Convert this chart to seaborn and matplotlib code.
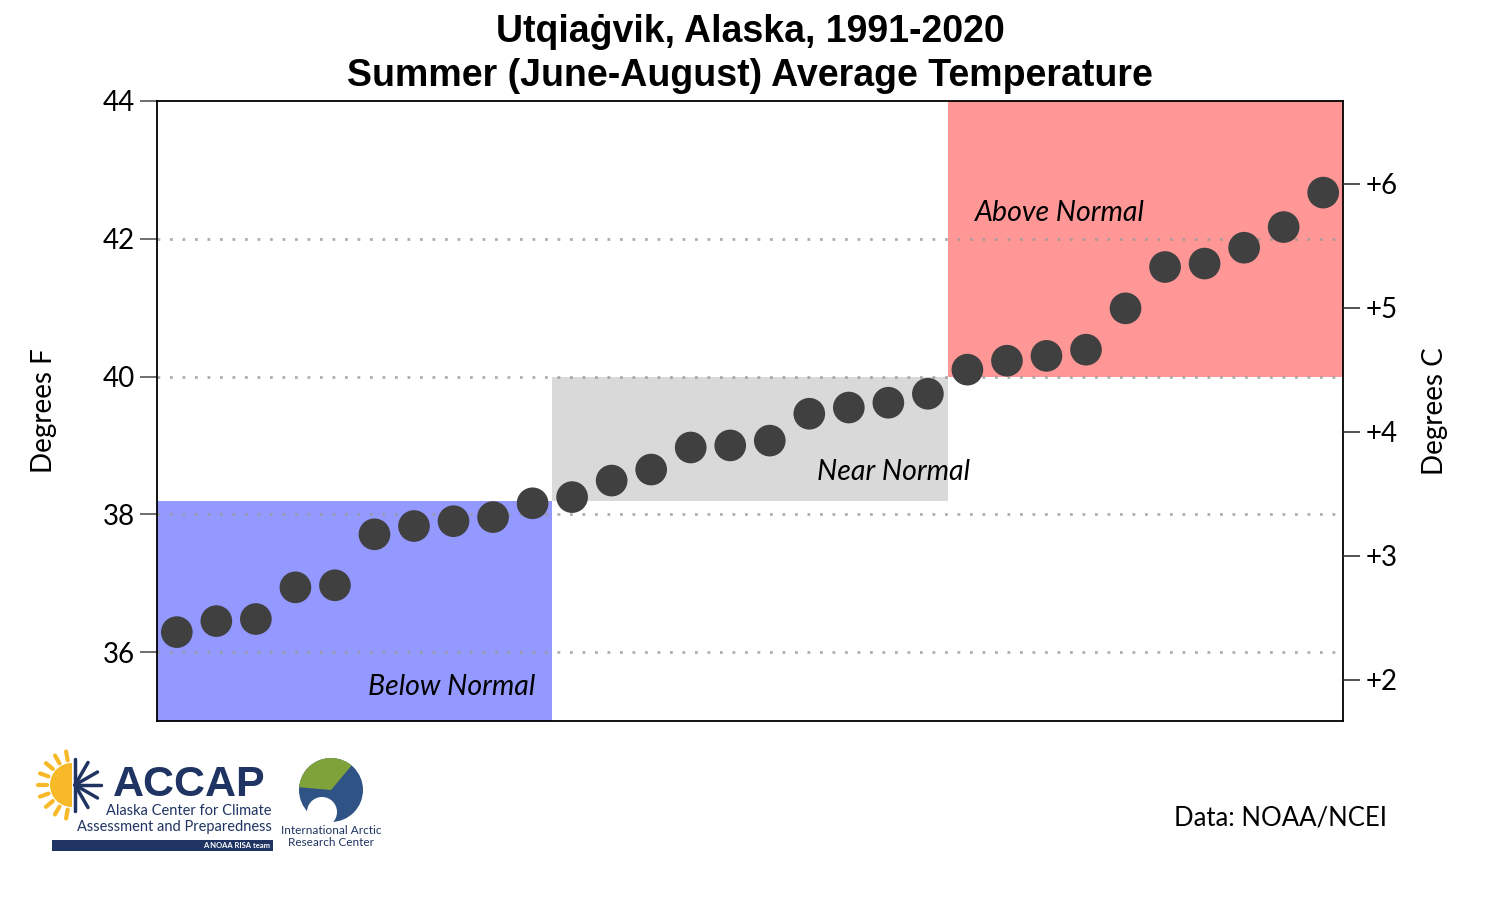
import numpy as np
import pandas as pd
import seaborn as sns
import matplotlib.pyplot as plt
from matplotlib.patches import Rectangle, Circle, Wedge

# sorted summer average temperatures (deg F), 1991-2020
rank = list(range(1, 31))
temp_f = [36.29, 36.45, 36.48, 36.94, 36.97, 37.71, 37.83, 37.90, 37.96, 38.16,
          38.25, 38.49, 38.65, 38.97, 39.00, 39.07, 39.46, 39.55, 39.62, 39.75,
          40.10, 40.23, 40.30, 40.39, 40.99, 41.59, 41.64, 41.87, 42.17, 42.67]

# tercile boxes: (first rank, last rank, low F, high F, colour)
terciles = [
    (1, 10, 35.0, 38.2, "#9499ff"),
    (11, 20, 38.2, 40.0, "#d9d9d9"),
    (21, 30, 40.0, 44.0, "#ff9797"),
]

f_ticks = [36, 38, 40, 42, 44]
c_ticks = [2, 3, 4, 5, 6]

df = pd.DataFrame({"rank": rank, "temp": temp_f})

sns.set_style("white")
plt.rcParams["font.family"] = ["Lato", "DejaVu Sans"]
plt.rcParams["text.color"] = "black"
plt.rcParams["axes.labelcolor"] = "black"
plt.rcParams["ytick.color"] = "black"

fig = plt.figure(figsize=(15, 9), dpi=100)
ax = fig.add_axes([0.1047, 0.1989, 0.7906, 0.6889])

for lo, hi, y0, y1, col in terciles:
    ax.add_patch(Rectangle((lo - 0.5, y0), hi - lo + 1, y1 - y0,
                           facecolor=col, edgecolor="none", zorder=1))

for t in [36, 38, 40, 42]:
    ax.axhline(t, color="#9a9a9a", lw=2, ls=(0, (1, 3.5)), alpha=0.8, zorder=2)

sns.scatterplot(data=df, x="rank", y="temp", ax=ax, s=520, color="#404040",
                edgecolor="none", zorder=3, legend=False)

ax.set_xlim(0.5, 30.5)
ax.set_ylim(35, 44)
ax.set_xticks([])
ax.set_yticks(f_ticks)
ax.set_yticklabels([str(t) for t in f_ticks], fontsize=20)
ax.tick_params(axis="y", length=12, width=1.2, color="#555555", pad=4)
ax.set_xlabel("")
ax.set_ylabel("Degrees F", fontsize=20, labelpad=33)
for sp in ax.spines.values():
    sp.set_visible(True)
    sp.set_color("black")
    sp.set_linewidth(1.3)

ax.text(21.2, 42.38, "Above Normal", fontsize=20.5, style="italic",
        ha="left", va="center", zorder=4)
ax.text(21.07, 38.61, "Near Normal", fontsize=20.5, style="italic",
        ha="right", va="center", zorder=4)
ax.text(10.06, 35.49, "Below Normal", fontsize=20.5, style="italic",
        ha="right", va="center", zorder=4)

# right axis in degrees C
ax2 = ax.twinx()
ax2.set_ylim((35 - 32) * 5 / 9, (44 - 32) * 5 / 9)
ax2.set_yticks(c_ticks)
ax2.set_yticklabels([f"+{c}" for c in c_ticks], fontsize=20)
ax2.tick_params(axis="y", length=12, width=1.2, color="#333333", pad=4)
ax2.set_ylabel("Degrees C", fontsize=20, labelpad=18)
for sp in ax2.spines.values():
    sp.set_visible(False)

fig.text(0.5, 0.964, "Utqiaġvik, Alaska, 1991-2020",
         family=["Liberation Sans", "DejaVu Sans"], fontsize=27,
         fontweight="bold", ha="center", va="center")
fig.text(0.5, 0.915, "Summer (June-August) Average Temperature",
         family=["Liberation Sans", "DejaVu Sans"], fontsize=27,
         fontweight="bold", ha="center", va="center")

fig.text(0.925, 0.091, "Data: NOAA/NCEI", fontsize=18.5, ha="right", va="center")

# rough stand-in for the logos (pixel-like coords, y measured down from 720)
lg = fig.add_axes([0, 0, 0.27, 0.2])
lg.set_xlim(0, 405)
lg.set_ylim(180, 0)
lg.axis("off")
navy = "#1f3462"
lg.add_patch(Wedge((72, 65), 22, 90, 270, facecolor="#f7b928", edgecolor="none"))
for a in np.linspace(100, 260, 9):
    r = np.deg2rad(a)
    lg.plot([72 + 25 * np.cos(r), 72 + 34 * np.cos(r)],
            [65 - 25 * np.sin(r), 65 - 34 * np.sin(r)], color="#f7b928", lw=3)
for a in range(-90, 91, 30):
    r = np.deg2rad(a)
    lg.plot([75, 75 + 26 * np.cos(r)], [65, 65 - 26 * np.sin(r)], color=navy, lw=2.5)
lg.text(113, 76, "ACCAP", fontsize=31, fontweight="black", color=navy,
        family=["Liberation Sans", "DejaVu Sans"], va="baseline", ha="left")
lg.text(272, 91, "Alaska Center for Climate", fontsize=10.5, color=navy,
        ha="right", va="center")
lg.text(272, 107, "Assessment and Preparedness", fontsize=10.5, color=navy,
        ha="right", va="center")
lg.add_patch(Rectangle((52, 120), 221, 11, facecolor=navy, edgecolor="none"))
lg.text(270, 125.5, "A NOAA RISA team", fontsize=5.5, color="white",
        fontweight="bold", ha="right", va="center")
# globe: y axis is flipped here, so negative angles point up
lg.add_patch(Circle((331, 70), 32, facecolor="#2f5384", edgecolor="none"))
lg.add_patch(Wedge((331, 70), 32, -175, -50, facecolor="#7fa33a", edgecolor="none"))
lg.add_patch(Circle((322, 92), 15, facecolor="white", edgecolor="none"))
lg.text(331, 111, "International Arctic", fontsize=8.5, color=navy, ha="center", va="center")
lg.text(331, 123, "Research Center", fontsize=8.5, color=navy, ha="center", va="center")

plt.savefig("out.png", dpi=100)
